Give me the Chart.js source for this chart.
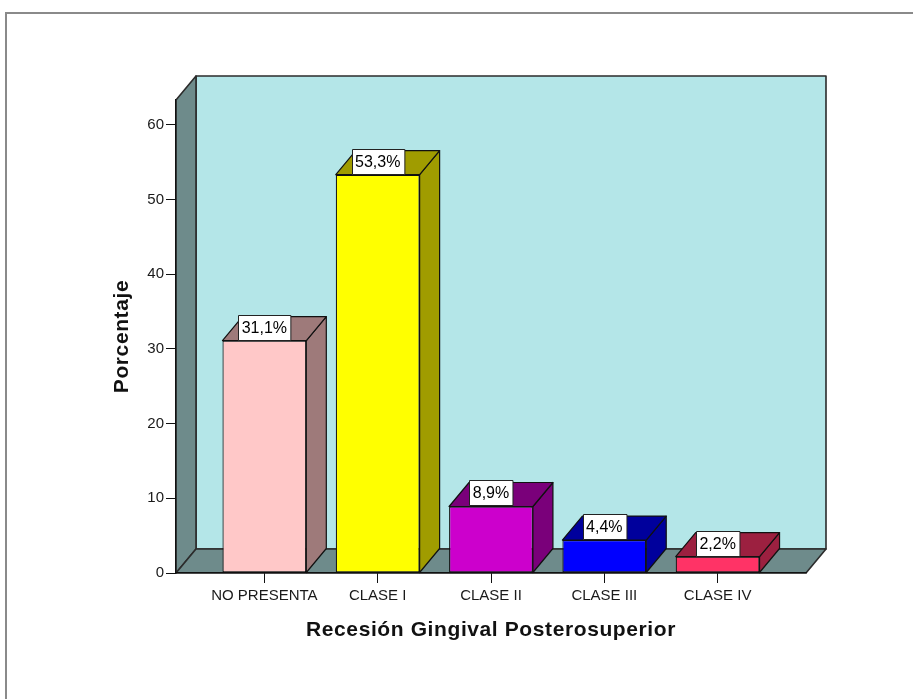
<!DOCTYPE html>
<html>
<head>
<meta charset="utf-8">
<script src="https://cdn.jsdelivr.net/npm/chart.js@4/dist/chart.umd.min.js"></script>
<style>
  html, body { margin: 0; padding: 0; background: #fff; overflow: hidden; }
  #frame {
    position: absolute; left: 5px; top: 12px; width: 1000px; height: 1000px;
    border-top: 2px solid #8a8a8a; border-left: 2px solid #8a8a8a;
  }
  canvas { position: absolute; left: 0; top: 0; }
</style>
</head>
<body>
<div id="frame"></div>
<canvas id="chart" width="913" height="699"></canvas>
<script>
// Recesión gingival posterosuperior: percentage of patients per class
const categories = ['NO PRESENTA', 'CLASE I', 'CLASE II', 'CLASE III', 'CLASE IV'];
const percentages = [31.1, 53.3, 8.9, 4.4, 2.2];
const yTicks = [0, 10, 20, 30, 40, 50, 60];

// Face colours: front face and the darker top/side faces of each bar
const frontColors = ['#ffc8c8', '#ffff00', '#cc00cc', '#0000ff', '#ff3366'];
const shadeColors = ['#9e7a7a', '#a09c00', '#7a007a', '#00009c', '#9c2040'];

// Depth of the 3D box (pixels to the right and upwards)
const DEPTH_X = 20;
const DEPTH_Y = 24;

Chart.defaults.font.family = '"Liberation Sans", Arial, sans-serif';
Chart.defaults.color = '#1a1a1a';

const fmt = v => v.toFixed(1).replace('.', ',') + '%';

function poly(ctx, pts, fill, stroke, lw) {
  ctx.beginPath();
  ctx.moveTo(pts[0][0], pts[0][1]);
  for (let i = 1; i < pts.length; i++) ctx.lineTo(pts[i][0], pts[i][1]);
  ctx.closePath();
  ctx.fillStyle = fill;
  ctx.fill();
  ctx.lineWidth = lw;
  ctx.strokeStyle = stroke;
  ctx.lineJoin = 'round';
  ctx.stroke();
}

// Back wall, side wall and floor of the 3D room behind the bars
const room3d = {
  id: 'room3d',
  beforeDraw(chart) {
    const { ctx } = chart;
    const { left, right, top, bottom } = chart.chartArea;
    ctx.save();
    poly(ctx, [[left + DEPTH_X, top - DEPTH_Y], [right + DEPTH_X, top - DEPTH_Y],
               [right + DEPTH_X, bottom - DEPTH_Y], [left + DEPTH_X, bottom - DEPTH_Y]],
         '#b4e6e8', '#2b2b2b', 1.6);
    poly(ctx, [[left, top], [left + DEPTH_X, top - DEPTH_Y],
               [left + DEPTH_X, bottom - DEPTH_Y], [left, bottom]],
         '#6e8b8b', '#2b2b2b', 1.6);
    poly(ctx, [[left, bottom], [left + DEPTH_X, bottom - DEPTH_Y],
               [right + DEPTH_X, bottom - DEPTH_Y], [right, bottom]],
         '#6e8b8b', '#2b2b2b', 1.6);
    ctx.restore();
  },
  afterDatasetsDraw(chart) {
    const { ctx } = chart;
    const meta = chart.getDatasetMeta(0);
    const values = chart.data.datasets[0].data;
    ctx.save();
    meta.data.forEach((bar, i) => {
      const { x, y, base, width } = bar.getProps(['x', 'y', 'base', 'width'], true);
      const l = x - width / 2, r = x + width / 2;
      // side face
      poly(ctx, [[r, y], [r + DEPTH_X, y - DEPTH_Y], [r + DEPTH_X, base - DEPTH_Y], [r, base]],
           shadeColors[i], '#111', 1.2);
      // top face
      poly(ctx, [[l, y], [l + DEPTH_X, y - DEPTH_Y], [r + DEPTH_X, y - DEPTH_Y], [r, y]],
           shadeColors[i], '#111', 1.2);
    });
    // value labels sitting on the top faces
    ctx.font = '16px "Liberation Sans", Arial, sans-serif';
    ctx.textAlign = 'center';
    ctx.textBaseline = 'middle';
    meta.data.forEach((bar, i) => {
      const { x, y } = bar.getProps(['x', 'y'], true);
      const text = fmt(values[i].y);
      const w = ctx.measureText(text).width + 7;
      const h = 25;
      const bx = Math.round(x - w / 2) + 0.5;
      const by = Math.round(y - 26) + 0.5;
      ctx.fillStyle = '#fff';
      ctx.fillRect(bx, by, w, h);
      ctx.strokeStyle = '#222';
      ctx.lineWidth = 1;
      ctx.strokeRect(bx, by, w, h);
      ctx.fillStyle = '#000';
      ctx.fillText(text, x, by + h / 2 + 0.5);
    });
    ctx.restore();
  }
};

// Axis titles are drawn with a little extra letter spacing
const spacedTitles = {
  id: 'spacedTitles',
  afterLayout(chart) {
    Object.values(chart.scales).forEach(s => {
      if (s._spacedTitle) return;
      const draw = s.drawTitle.bind(s);
      s.drawTitle = function () {
        const c = this.ctx;
        c.save();
        c.letterSpacing = '0.6px';
        draw();
        c.restore();
      };
      s._spacedTitle = true;
    });
  }
};

new Chart(document.getElementById('chart'), {
  type: 'bar',
  data: {
    datasets: [{
      data: categories.map((c, i) => ({ x: i, y: percentages[i] })),
      backgroundColor: frontColors,
      borderColor: '#111',
      borderWidth: 1.2,
      borderSkipped: false,
      barPercentage: 0.74,
      categoryPercentage: 1
    }]
  },
  options: {
    responsive: false,
    animation: false,
    events: [],
    layout: { padding: { top: 100, right: 107, left: 0, bottom: 0 } },
    plugins: { legend: { display: false }, tooltip: { enabled: false } },
    scales: {
      x: {
        type: 'linear',
        offset: false,
        min: -0.78,
        max: 4.78,
        afterBuildTicks: s => { s.ticks = categories.map((c, i) => ({ value: i })); },
        afterFit: s => { s.height = 126; },
        ticks: {
          callback: v => categories[v],
          font: { size: 15 },
          padding: 4,
          autoSkip: false,
          maxRotation: 0
        },
        grid: { offset: false, drawOnChartArea: false, drawTicks: true, tickLength: 10, color: '#111' },
        border: { display: true, color: '#111', width: 1.2 },
        title: {
          display: true,
          text: 'Recesión Gingival Posterosuperior',
          font: { size: 21, weight: 'bold' },
          color: '#111',
          padding: { top: 0, bottom: 56 }
        }
      },
      y: {
        min: 0,
        max: 63.3,
        afterBuildTicks: s => { s.ticks = yTicks.map(v => ({ value: v })); },
        afterFit: s => { s.width = 176; },
        ticks: { font: { size: 15 }, padding: 2 },
        grid: { drawOnChartArea: false, drawTicks: true, tickLength: 10, color: '#111' },
        border: { display: true, color: '#111', width: 1.2 },
        title: {
          display: true,
          text: 'Porcentaje',
          font: { size: 21, weight: 'bold' },
          color: '#111',
          padding: { top: 110, bottom: 0 }
        }
      }
    }
  },
  plugins: [room3d, spacedTitles]
});
</script>
</body>
</html>
